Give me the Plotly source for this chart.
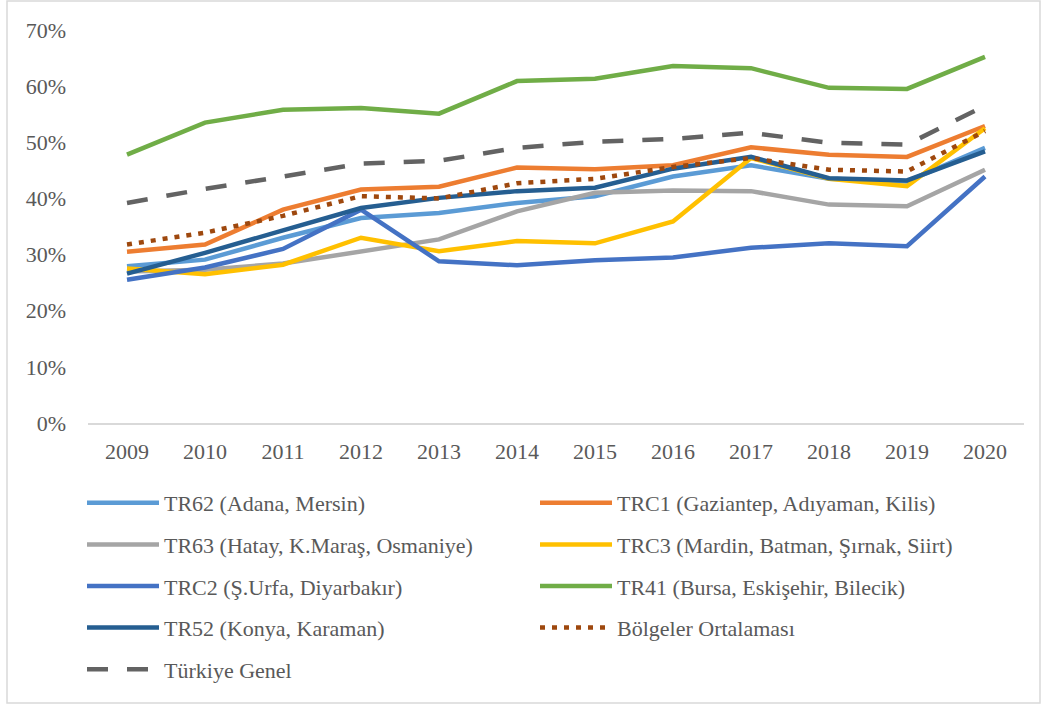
import plotly.graph_objects as go

years = ["2009", "2010", "2011", "2012", "2013", "2014", "2015", "2016", "2017", "2018", "2019", "2020"]

tr62 = [27.9, 29.1, 33.0, 36.5, 37.4, 39.2, 40.4, 43.9, 45.9, 43.5, 43.0, 49.0]
trc1 = [30.5, 31.8, 38.0, 41.6, 42.1, 45.5, 45.2, 45.9, 49.1, 47.8, 47.4, 52.9]
tr63 = [27.0, 27.3, 28.4, 30.6, 32.7, 37.7, 41.0, 41.4, 41.3, 38.9, 38.6, 45.1]
trc3 = [27.5, 26.5, 28.2, 33.0, 30.6, 32.4, 32.0, 35.9, 47.2, 43.5, 42.2, 52.5]
trc2 = [25.5, 27.7, 31.0, 38.0, 28.8, 28.1, 29.0, 29.5, 31.2, 32.0, 31.5, 43.9]
tr41 = [47.8, 53.5, 55.8, 56.1, 55.1, 60.9, 61.3, 63.6, 63.2, 59.7, 59.5, 65.2]
tr52 = [26.6, 30.3, 34.3, 38.3, 40.1, 41.3, 41.9, 45.3, 47.4, 43.6, 43.2, 48.4]
bolge = [31.8, 33.9, 36.9, 40.4, 40.0, 42.7, 43.5, 45.6, 47.2, 45.1, 44.8, 52.0]
turkiye = [39.2, 41.7, 43.9, 46.2, 46.7, 49.0, 50.1, 50.6, 51.7, 49.9, 49.6, 56.5]

series = [
    ("TR62 (Adana, Mersin)", tr62, "#5B9BD5", "solid", "legend"),
    ("TRC1 (Gaziantep, Adıyaman, Kilis)", trc1, "#ED7D31", "solid", "legend2"),
    ("TR63 (Hatay, K.Maraş, Osmaniye)", tr63, "#A5A5A5", "solid", "legend"),
    ("TRC3 (Mardin, Batman, Şırnak, Siirt)", trc3, "#FFC000", "solid", "legend2"),
    ("TRC2 (Ş.Urfa, Diyarbakır)", trc2, "#4472C4", "solid", "legend"),
    ("TR41 (Bursa, Eskişehir, Bilecik)", tr41, "#70AD47", "solid", "legend2"),
    ("TR52 (Konya, Karaman)", tr52, "#255E91", "solid", "legend"),
    ("Bölgeler Ortalaması", bolge, "#9E480E", "5px,7px", "legend2"),
    ("Türkiye Genel", turkiye, "#636363", "21px,19px", "legend"),
]

fig = go.Figure()
for i, (name, vals, color, dash, leg) in enumerate(series):
    fig.add_trace(go.Scatter(
        x=years, y=vals, name=name, mode="lines",
        line=dict(color=color, width=4.5, dash=dash),
        legend=leg, legendgroup="g%d" % i,
    ))

W, H = 1044, 705
L, R, T, B = 88, 20, 30, 282
pw, ph = W - L - R, H - T - B

def px_x(x):
    return (x - L) / pw

def px_y(y):
    return (H - B - y) / ph

font = dict(family="Liberation Serif", size=22, color="#595959")

fig.update_layout(
    width=W, height=H,
    margin=dict(l=L, r=R, t=T, b=B),
    paper_bgcolor="white", plot_bgcolor="white",
    font=font,
    showlegend=True,
    xaxis=dict(type="category", range=[-0.5, 11.5], showgrid=False, showline=True,
               linecolor="#D9D9D9", linewidth=1.5, ticks="", ticklabelstandoff=8,
               tickfont=font),
    yaxis=dict(range=[0, 70], dtick=10, ticksuffix="%", showgrid=False, zeroline=False,
               showline=False, ticks="", ticklabelstandoff=21, tickfont=font),
    legend=dict(x=px_x(82), y=px_y(482), xanchor="left", yanchor="top",
                orientation="v", tracegroupgap=10, itemwidth=72,
                bgcolor="rgba(0,0,0,0)", font=font),
    legend2=dict(x=px_x(535), y=px_y(482), xanchor="left", yanchor="top",
                 orientation="v", tracegroupgap=10, itemwidth=72,
                 bgcolor="rgba(0,0,0,0)", font=font),
    shapes=[dict(type="rect", xref="paper", yref="paper",
                 x0=px_x(7), x1=px_x(1040), y0=px_y(703), y1=px_y(1),
                 line=dict(color="#D9D9D9", width=1.5), layer="below")],
)

fig.write_html("out.html", config={"displayModeBar": False},
               post_script="document.body.style.margin='0';")
